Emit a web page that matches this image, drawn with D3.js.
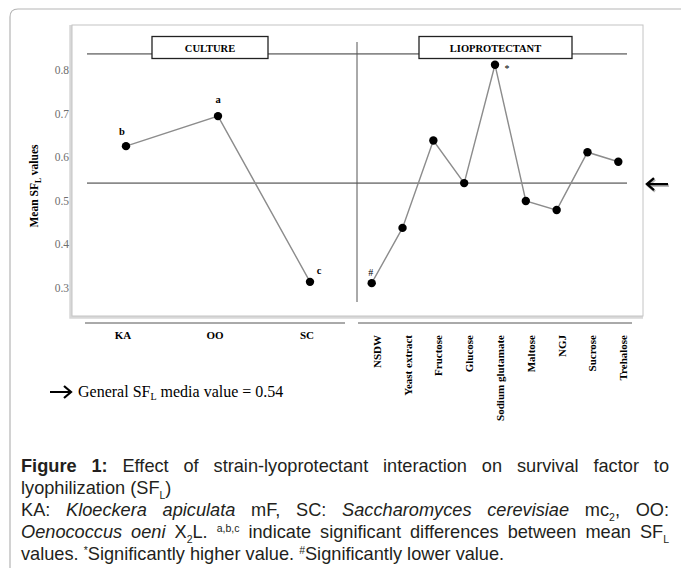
<!DOCTYPE html>
<html>
<head>
<meta charset="utf-8">
<script src="https://cdn.jsdelivr.net/npm/d3@7"></script>
<style>
  body { margin: 0; background: #fff; }
  svg { display: block; }
</style>
</head>
<body>
<svg id="fig" width="681" height="570"></svg>
<script>
// values
const cultureCats = ["KA", "OO", "SC"];
const cultureVals = [0.625, 0.694, 0.313];
const cultureLetters = ["b", "a", "c"];

const protCats = ["NSDW", "Yeast extract", "Fructose", "Glucose", "Sodium glutamate",
                  "Maltose", "NGJ", "Sucrose", "Trehalose"];
const protVals = [0.310, 0.437, 0.638, 0.540, 0.812, 0.499, 0.478, 0.611, 0.589];
const protMarks = ["#", "", "", "", "*", "", "", "", ""];

const yTicks = [0.3, 0.4, 0.5, 0.6, 0.7, 0.8];
const generalMean = 0.54;
const topLineVal = 0.837;

const captionLines = [
  {justify: true,  text: "**Figure** **1:** Effect of strain-lyoprotectant interaction on survival factor to"},
  {justify: false, text: "lyophilization (SF_{L})"},
  {justify: true,  text: "KA: *Kloeckera* *apiculata* mF, SC: *Saccharomyces* *cerevisiae* mc_{2}, OO:"},
  {justify: true,  text: "*Oenococcus* *oeni* X_{2}L. ^{a,b,c} indicate significant differences between mean SF_{L}"},
  {justify: false, text: "values. ^{*}Significantly higher value. ^{#}Significantly lower value."}
];

const svg = d3.select("#fig");
const serif = "'Liberation Serif', 'DejaVu Serif', serif";
const sans = "'Liberation Sans', Arial, sans-serif";

// outer frame (open at right and bottom)
svg.append("path")
  .attr("d", "M10,568 L10,17 Q10,9 18,9 L681,9")
  .attr("fill", "none").attr("stroke", "#b5b5b5").attr("stroke-width", 1.2);

// chart panel with soft shadow on left / bottom
svg.append("path")
  .attr("d", "M71,25 L71,317 L643,317")
  .attr("fill", "none").attr("stroke", "#d8d8d8").attr("stroke-width", 3.5);
svg.append("rect")
  .attr("x", 72).attr("y", 25).attr("width", 571).attr("height", 291)
  .attr("fill", "#fff").attr("stroke", "#c4c4c4").attr("stroke-width", 1);

// scales
var y = d3.scaleLinear().domain([0.3, 0.8]).range([287.5, 70]);
var xCult = d3.scalePoint().domain(cultureCats).range([126, 310]);
var xProt = d3.scalePoint().domain(protCats).range([371.7, 618.3]);

// y axis labels
var yAxis = svg.append("g").attr("transform", "translate(69,0)")
  .call(d3.axisLeft(y).tickValues(yTicks).tickSize(0).tickPadding(0).tickFormat(d3.format(".1f")));
yAxis.select(".domain").remove();
yAxis.selectAll("text")
  .attr("fill", "#6e6e6e").style("font-family", serif).style("font-size", "11.5px");

// y title
svg.append("text")
  .attr("transform", "translate(38,186) rotate(-90)")
  .attr("text-anchor", "middle")
  .style("font-family", serif).style("font-size", "11.5px").style("font-weight", "bold")
  .call(t => {
    t.append("tspan").text("Mean SF");
    t.append("tspan").attr("dy", 3).style("font-size", "7.5px").text("L");
    t.append("tspan").attr("dy", -3).text(" values");
  });

// horizontal reference lines
svg.append("line")
  .attr("x1", 87).attr("x2", 627).attr("y1", y(topLineVal)).attr("y2", y(topLineVal))
  .attr("stroke", "#8a8a8a").attr("stroke-width", 1.6);
svg.append("line")
  .attr("x1", 87).attr("x2", 627).attr("y1", y(generalMean)).attr("y2", y(generalMean))
  .attr("stroke", "#8a8a8a").attr("stroke-width", 1.6);

// divider between panels
svg.append("line")
  .attr("x1", 357).attr("x2", 357).attr("y1", 42).attr("y2", 302)
  .attr("stroke", "#555").attr("stroke-width", 1);

// title boxes
function titleBox(x0, x1, label) {
  svg.append("rect")
    .attr("x", x0).attr("y", 36.5).attr("width", x1 - x0).attr("height", 22)
    .attr("fill", "#fff").attr("stroke", "#222").attr("stroke-width", 1.3);
  svg.append("text")
    .attr("x", (x0 + x1) / 2).attr("y", 51.5)
    .attr("text-anchor", "middle")
    .style("font-family", serif).style("font-size", "10.5px").style("font-weight", "bold")
    .text(label);
}
titleBox(152, 268, "CULTURE");
titleBox(419, 572, "LIOPROTECTANT");

// lines + points
var line = d3.line().x(d => d[0]).y(d => d[1]);
var cultPts = cultureCats.map((c, i) => [xCult(c), y(cultureVals[i])]);
var protPts = protCats.map((c, i) => [xProt(c), y(protVals[i])]);

[cultPts, protPts].forEach(pts => {
  svg.append("path").attr("d", line(pts))
    .attr("fill", "none").attr("stroke", "#8c8c8c").attr("stroke-width", 1.4);
  svg.selectAll(null).data(pts).enter().append("circle")
    .attr("cx", d => d[0]).attr("cy", d => d[1]).attr("r", 4.2)
    .attr("fill", "#000");
});

// significance letters
var letterPos = {b: [-4, -11], a: [0, -13], c: [9, -8]};
svg.selectAll(null).data(cultureCats).enter().append("text")
  .attr("x", (d, i) => xCult(d) + letterPos[cultureLetters[i]][0])
  .attr("y", (d, i) => y(cultureVals[i]) + letterPos[cultureLetters[i]][1])
  .attr("text-anchor", "middle")
  .style("font-family", serif).style("font-size", "10.5px").style("font-weight", "bold")
  .text((d, i) => cultureLetters[i]);

svg.selectAll(null).data(protCats.filter((c, i) => protMarks[i])).enter().append("text")
  .attr("x", d => {
    var i = protCats.indexOf(d);
    return xProt(d) + (protMarks[i] === "*" ? 12 : -1);
  })
  .attr("y", d => {
    var i = protCats.indexOf(d);
    return y(protVals[i]) + (protMarks[i] === "*" ? 7 : -7);
  })
  .attr("text-anchor", "middle")
  .style("font-family", serif).style("font-size", "10px")
  .text(d => protMarks[protCats.indexOf(d)]);

// bottom axis rules
svg.append("line").attr("x1", 85).attr("x2", 345).attr("y1", 323).attr("y2", 323)
  .attr("stroke", "#555").attr("stroke-width", 1);
svg.append("line").attr("x1", 358).attr("x2", 632).attr("y1", 323).attr("y2", 323)
  .attr("stroke", "#555").attr("stroke-width", 1);

// category labels
svg.selectAll(null).data(cultureCats).enter().append("text")
  .attr("x", d => xCult(d) - 3).attr("y", 339)
  .attr("text-anchor", "middle")
  .style("font-family", serif).style("font-size", "11px").style("font-weight", "bold")
  .text(d => d);

svg.selectAll(null).data(protCats).enter().append("text")
  .attr("transform", d => "translate(" + (xProt(d) + 9) + ",335) rotate(-90)")
  .attr("text-anchor", "end")
  .style("font-family", serif).style("font-size", "11px").style("font-weight", "bold")
  .text(d => d);

// arrow marking the general mean
function arrow(x0, x1, yy, headDir) {
  var h = 7 * headDir;
  var d = "M" + x0 + "," + yy + " L" + x1 + "," + yy +
          " M" + (x1 - h) + "," + (yy - 6) + " L" + x1 + "," + yy + " L" + (x1 - h) + "," + (yy + 6);
  return d;
}
svg.append("path").attr("d", arrow(668, 647, y(generalMean) + 1, -1))
  .attr("fill", "none").attr("stroke", "#bbb").attr("stroke-width", 2.6).attr("transform", "translate(1,1.5)");
svg.append("path").attr("d", arrow(668, 647, y(generalMean) + 1, -1))
  .attr("fill", "none").attr("stroke", "#000").attr("stroke-width", 2.4);

// legend
svg.append("path").attr("d", arrow(50, 71, 392, 1))
  .attr("fill", "none").attr("stroke", "#000").attr("stroke-width", 2.2);
svg.append("text")
  .attr("x", 78).attr("y", 397)
  .style("font-family", serif).style("font-size", "16px")
  .call(t => {
    t.append("tspan").text("General SF");
    t.append("tspan").attr("dy", 3).style("font-size", "10px").text("L");
    t.append("tspan").attr("dy", -3).text(" media value = " + generalMean.toFixed(2));
  });

// caption, justified like the printed page
const capSize = 18.2;
const capLeft = 21, capRight = 669;
const tokenRe = /(\*\*[^*]+\*\*|\*[^*]+\*|_\{[^}]*\}|\^\{[^}]*\}|[^*_^]+)/g;

function addWord(g, word) {
  var t = g.append("text")
    .style("font-family", sans).style("font-size", capSize + "px").attr("fill", "#231f20");
  var shift = 0;
  (word.match(tokenRe) || []).forEach(tok => {
    var s = t.append("tspan"), newShift = 0, txt = tok;
    if (tok.startsWith("**")) { txt = tok.slice(2, -2); s.style("font-weight", "bold"); }
    else if (tok.startsWith("*")) { txt = tok.slice(1, -1); s.style("font-style", "italic"); }
    else if (tok.startsWith("_{")) { txt = tok.slice(2, -1); newShift = 5; s.style("font-size", "10.5px"); }
    else if (tok.startsWith("^{")) { txt = tok.slice(2, -1); newShift = -6; s.style("font-size", "10.5px"); }
    if (newShift !== shift) s.attr("dy", newShift - shift);
    shift = newShift;
    s.text(txt);
  });
  return t;
}

captionLines.forEach((ln, li) => {
  var by = 472 + li * 22;
  var g = svg.append("g");
  var words = ln.text.split(" ");
  var els = words.map(w => addWord(g, w));
  var widths = els.map(e => e.node().getComputedTextLength());
  var total = d3.sum(widths);
  var gap = ln.justify && words.length > 1
    ? (capRight - capLeft - total) / (words.length - 1)
    : capSize * 0.278;
  var x = capLeft;
  els.forEach((e, i) => {
    e.attr("x", x).attr("y", by);
    x += widths[i] + gap;
  });
});
</script>
</body>
</html>
